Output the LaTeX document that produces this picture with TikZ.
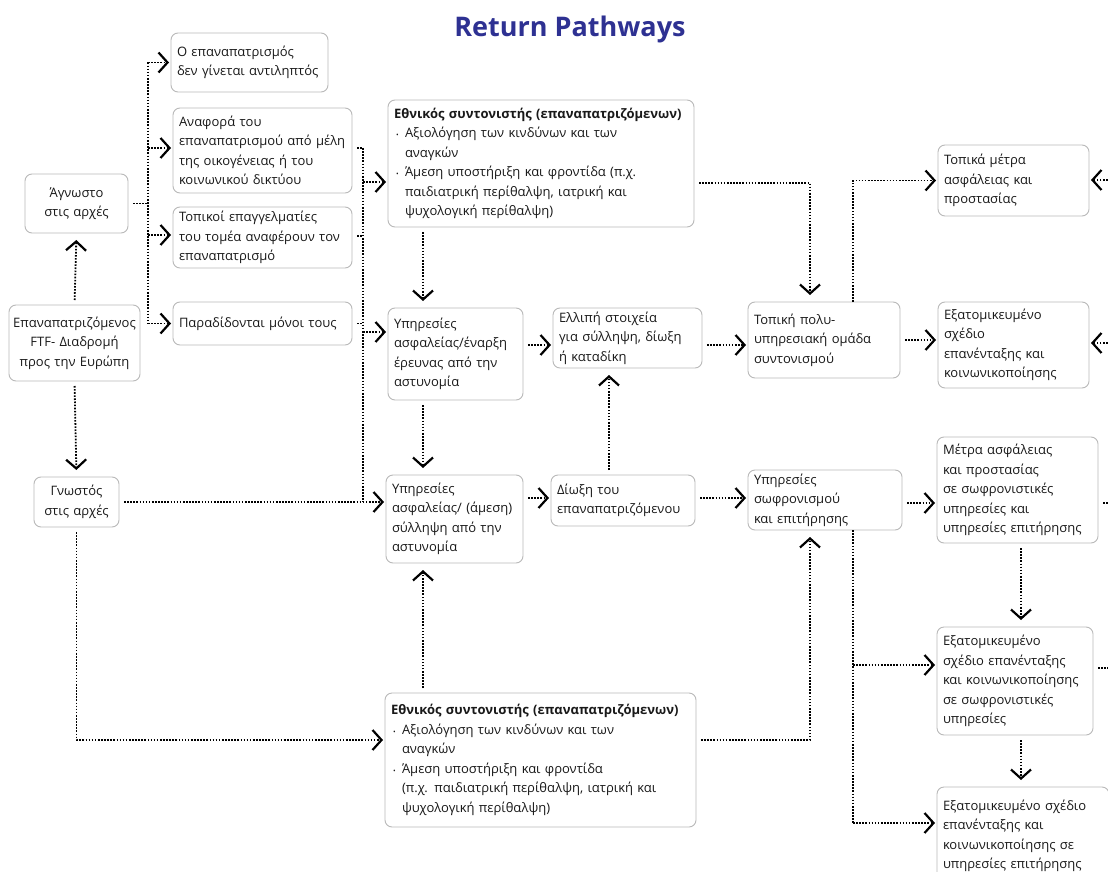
\documentclass[tikz,border=0pt]{standalone}
\usepackage{fontspec}
\setmainfont{Open Sans}
\usetikzlibrary{arrows.meta}
\definecolor{titleblue}{RGB}{46,49,146}
\definecolor{boxgray}{RGB}{185,185,185}
\definecolor{txtgray}{RGB}{25,25,25}
\newcommand{\bxfont}{\fontsize{13}{19.5}\selectfont}
\newcommand{\bul}{\makebox[11pt][l]{\hspace{2pt}\fontsize{7}{7}\selectfont •}}
\newcommand{\ind}{\hspace*{11pt}}
\begin{document}
\begin{tikzpicture}[x=1pt,y=-1pt,
		box/.style={draw=boxgray,line width=0.9pt,rounded corners=7pt,anchor=north west,
			inner xsep=6pt,inner ysep=2pt,outer sep=0pt,align=left,font=\bxfont,text=txtgray},
		cbox/.style={box,align=center,inner xsep=3pt},
		link/.style={line width=1.8pt,dash pattern=on 1.6pt off 1.5pt},
		gapped/.style={shorten <=5pt},
		arr/.style={link,-{Straight Barb[length=9pt,width=20pt,line width=2.2pt]},shorten >=2pt},
		varr/.style={arr,shorten >=7pt}]
		\useasboundingbox[fill=white] (0,0) rectangle (1108,872);
		\node[font=\fontsize{27}{30}\selectfont\bfseries,text=titleblue] (title) at (570,29) {Return Pathways};

		\node[cbox,text width=97,minimum height=59] (agn) at (25,174) {Άγνωστο\\στις αρχές};
		\node[cbox,text width=125,minimum height=76] (epa) at (9,305) {Επαναπατριζόμενος\\FTF- Διαδρομή\\προς την Ευρώπη};
		\node[cbox,text width=79,minimum height=50] (gno) at (34,477) {Γνωστός\\στις αρχές};

		\node[box,text width=145,minimum height=59] (ret) at (171,33) {Ο επαναπατρισμός\\δεν γίνεται αντιληπτός};
		\node[box,text width=167,minimum height=85] (anaf) at (173,108) {Αναφορά του\\επαναπατρισμού από μέλη\\της οικογένειας ή του\\κοινωνικού δικτύου};
		\node[box,text width=167,minimum height=61] (topik) at (173,207) {Τοπικοί επαγγελματίες\\του τομέα αναφέρουν τον\\επαναπατρισμό};
		\node[box,text width=167,minimum height=43] (parad) at (173,302) {Παραδίδονται μόνοι τους};

		\node[box,text width=294,minimum height=127] (ethA) at (388,100) {{\bfseries Εθνικός συντονιστής (επαναπατριζόμενων)}\\
			\bul Αξιολόγηση των κινδύνων και των\\\ind αναγκών\\
			\bul Άμεση υποστήριξη και φροντίδα (π.χ.\\\ind παιδιατρική περίθαλψη, ιατρική και\\\ind ψυχολογική περίθαλψη)};
		\node[box,text width=123,minimum height=92] (usa1) at (388,308) {Υπηρεσίες\\ασφαλείας/έναρξη\\έρευνας από την\\αστυνομία};
		\node[box,text width=137,minimum height=60] (ell) at (553,308) {Ελλιπή στοιχεία\\για σύλληψη, δίωξη\\ή καταδίκη};
		\node[box,text width=125,minimum height=88] (usa2) at (386,475) {Υπηρεσίες\\ασφαλείας/ (άμεση)\\σύλληψη από την\\αστυνομία};
		\node[box,text width=132,minimum height=51] (dio) at (551,475) {Δίωξη του\\επαναπατριζόμενου};
		\node[box,text width=299,minimum height=134] (ethB) at (385,693) {{\bfseries Εθνικός συντονιστής (επαναπατριζόμενων)}\\
			\bul Αξιολόγηση των κινδύνων και των\\\ind αναγκών\\
			\bul Άμεση υποστήριξη και φροντίδα\\\ind (π.χ. παιδιατρική περίθαλψη, ιατρική και\\\ind ψυχολογική περίθαλψη)};

		\node[box,text width=140,minimum height=76] (tpo) at (748,302) {Τοπική πολυ-\\υπηρεσιακή ομάδα\\συντονισμού};
		\node[box,text width=142,minimum height=60] (usw) at (748,470) {Υπηρεσίες\\σωφρονισμού\\και επιτήρησης};

		\node[box,text width=139,minimum height=71] (tme) at (938,145) {Τοπικά μέτρα\\ασφάλειας και\\προστασίας};
		\node[box,text width=139,minimum height=86] (ex1) at (938,302) {Εξατομικευμένο\\σχέδιο\\επανένταξης και\\κοινωνικοποίησης};
		\node[box,text width=149,minimum height=106] (mas) at (937,437) {Μέτρα ασφάλειας\\και προστασίας\\σε σωφρονιστικές\\υπηρεσίες και\\υπηρεσίες επιτήρησης};
		\node[box,text width=144,minimum height=108] (ex2) at (937,627) {Εξατομικευμένο\\σχέδιο επανένταξης\\και κοινωνικοποίησης\\σε σωφρονιστικές\\υπηρεσίες};
		\node[box,text width=160,minimum height=98] (ex3) at (937,787) {Εξατομικευμένο σχέδιο\\επανένταξης και\\κοινωνικοποίησης σε\\υπηρεσίες επιτήρησης};

		\coordinate (b1) at (148,0);
		\coordinate (b2) at (363,0);
		\coordinate (b3) at (853,0);

		\draw[varr,gapped] (epa.north) -- (agn.south);
		\draw[varr,gapped] (epa.south) -- (gno.north);
		\draw[link,gapped] (agn.east) -- (b1 |- agn.east);
		\draw[link] (b1 |- ret.west) -- (b1 |- parad.west);
		\draw[arr] (b1 |- ret.west) -- (ret.west);
		\draw[arr] (b1 |- 0,148) -- (anaf.west |- 0,148);
		\draw[arr] (b1 |- 0,235) -- (topik.west |- 0,235);
		\draw[arr] (b1 |- parad.west) -- (parad.west);

		\draw[link,gapped] (anaf.east |- 0,148) -- (b2 |- 0,148);
		\draw[link,gapped] (topik.east |- 0,236) -- (b2 |- 0,236);
		\draw[link,gapped] (parad.east) -- (b2 |- parad.east);
		\draw[link] (b2 |- 0,148) -- (b2 |- gno.east);
		\draw[arr] (b2 |- 0,182) -- (ethA.west |- 0,182);
		\draw[arr] (b2 |- 0,332) -- (usa1.west |- 0,332);
		\draw[arr,gapped] (gno.east) -- (usa2.west |- gno.east);
		\draw[arr,gapped] (gno.south) |- (ethB.west |- 0,740);

		\draw[varr,gapped] (ethA.south -| 423,0) -- (usa1.north -| 423,0);
		\draw[varr,gapped] (usa1.south -| 423,0) -- (usa2.north -| 423,0);
		\draw[varr,gapped] (ethB.north -| 423,0) -- (usa2.south -| 423,0);
		\draw[arr,gapped] (usa1.east |- 0,345) -- (ell.west |- 0,345);
		\draw[arr,gapped] (usa2.east |- 0,498) -- (dio.west |- 0,498);
		\draw[varr,gapped] (dio.north -| 609,0) -- (ell.south -| 609,0);
		\draw[arr,gapped] (ell.east |- 0,345) -- (tpo.west |- 0,345);
		\draw[arr,gapped] (dio.east |- 0,498) -- (usw.west |- 0,498);
		\draw[varr,gapped] (ethA.east |- 0,183) -| (tpo.north -| 810,0);
		\draw[varr,gapped] (ethB.east |- 0,740) -| (usw.south -| 810,0);

		\draw[arr] (b3 |- tpo.north) |- (tme.west);
		\draw[arr,gapped] (tpo.east) -- (ex1.west |- tpo.east);
		\draw[arr,gapped] (usw.east |- 0,503) -- (mas.west |- 0,503);
		\draw[link] (b3 |- usw.south) -- (b3 |- 0,823);
		\draw[arr] (b3 |- 0,665) -- (ex2.west |- 0,665);
		\draw[arr] (b3 |- 0,823) -- (ex3.west |- 0,823);
		\draw[varr,gapped] (mas.south -| 1021,0) -- (ex2.north -| 1021,0);
		\draw[varr,gapped] (ex2.south -| 1021,0) -- (ex3.north -| 1021,0);

		\draw[arr] (1120,180) -- (tme.east |- 0,180);
		\draw[arr] (1120,343) -- (ex1.east |- 0,343);
		\draw[link,gapped] (mas.east |- 0,503) -- (1120,503);
		\draw[link,gapped] (ex2.east |- 0,668) -- (1120,668);
	\end{tikzpicture}
\end{document}
